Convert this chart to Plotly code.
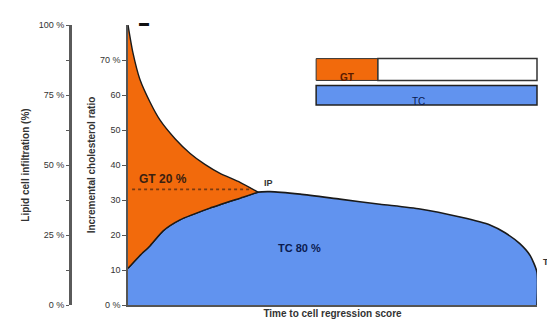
import plotly.graph_objects as go

# ---- data ----
upper_x = [0, 1.2, 2.9, 5.4, 7.8, 11.5, 15.2, 18.8, 22.5, 27.4, 31.8]
upper_y = [100, 90.1, 80.6, 72.4, 66.1, 59.4, 54.1, 50.2, 47.0, 43.8, 40.3]

lower_x = [0, 2.9, 5.4, 8.6, 12.7, 20.0, 28.1, 31.8]
lower_y = [13.1, 17.7, 21.2, 26.5, 30.4, 34.6, 38.5, 40.3]

tail_x = [34.7, 42.1, 51.8, 61.6, 71.4, 81.2, 88.5, 92.2, 95.8, 98.3, 100]
tail_y = [40.5, 39.6, 37.8, 36.0, 34.3, 31.4, 28.6, 25.8, 21.9, 17.7, 11.7]

ip_x, ip_y = 31.8, 40.3

inner_tickvals = [0, 12.5, 25, 37.5, 50, 62.5, 75, 87.5]
inner_ticktext = ["0 %", "10", "20", "30", "40", "50", "60", "70 %"]
outer_tickvals = [0, 25, 50, 75, 100]
outer_ticktext = ["0 %", "25 %", "50 %", "75 %", "100 %"]

share_labels = ["GT 20 %", "TC 80 %"]

ORANGE = "#f26a0c"
BLUE = "#6193ef"
LINE = "#1a1a1a"

fig = go.Figure()

# blue area (TC)
blue_x = lower_x + tail_x + [100]
blue_y = lower_y + tail_y + [0]
fig.add_trace(go.Scatter(x=blue_x, y=blue_y, mode="lines", fill="tozeroy",
                         fillcolor=BLUE, line=dict(color=LINE, width=1.6, shape="spline", smoothing=0.6),
                         hoverinfo="skip", showlegend=False))
# orange area (GT)
or_x = upper_x + lower_x[::-1]
or_y = upper_y + lower_y[::-1]
fig.add_trace(go.Scatter(x=or_x, y=or_y, mode="lines", fill="toself",
                         fillcolor=ORANGE, line=dict(color=LINE, width=1.4, shape="spline", smoothing=0.6),
                         hoverinfo="skip", showlegend=False))
# dotted reference at IP level
fig.add_trace(go.Scatter(x=[1, ip_x - 2], y=[ip_y + 1, ip_y + 1], mode="lines",
                         line=dict(color="#7a3a10", width=1.6, dash="dot"),
                         hoverinfo="skip", showlegend=False))
# invisible trace for outer axis
fig.add_trace(go.Scatter(x=[0], y=[0], yaxis="y2", mode="markers",
                         marker=dict(opacity=0), hoverinfo="skip", showlegend=False))

font = dict(family="Liberation Sans, Arial", size=10, color="#333333")
W, H = 547, 328
L, R, T, B = 62, 18, 14, 31
dom0 = 58 / (W - L - R)

fig.update_layout(
    width=W, height=H,
    margin=dict(l=L, r=R, t=T, b=B),
    paper_bgcolor="white", plot_bgcolor="white",
    font=font,
    xaxis=dict(domain=[dom0, 1], range=[0, 100], showgrid=False, zeroline=False,
               showticklabels=False, ticks="", showline=True, linecolor="#555555",
               linewidth=2,
               title=dict(text="<b>Time to cell regression score</b>", standoff=4,
                          font=dict(size=10, color="#333333"))),
    yaxis=dict(range=[0, 100], showgrid=False, zeroline=False, showline=True,
               linecolor="#555555", linewidth=1.5, ticks="outside", ticklen=4,
               tickcolor="#555555", tickvals=inner_tickvals, ticktext=inner_ticktext,
               tickfont=dict(size=9, color="#333333"),
               title=dict(text="<b>Incremental cholesterol ratio</b>", standoff=2,
                          font=dict(size=10, color="#333333"))),
    yaxis2=dict(range=[0, 100], overlaying="y", anchor="free", position=0, side="left",
                showgrid=False, zeroline=False, showline=True, linecolor="#5a5a5a",
                linewidth=3, ticks="outside", ticklen=3, tickcolor="#5a5a5a",
                tickvals=outer_tickvals, ticktext=outer_ticktext,
                minor=dict(ticks="outside", ticklen=3, dtick=12.5, tickcolor="#5a5a5a"),
                tickfont=dict(size=9, color="#333333"),
                title=dict(text="<b>Lipid cell infiltration (%)</b>", standoff=6,
                           font=dict(size=10, color="#333333"))),
)

# legend-like boxes
shapes = [
    dict(type="rect", xref="x domain", yref="y domain", x0=0.46, x1=0.611, y0=0.802, y1=0.880,
         fillcolor=ORANGE, line=dict(color="#333333", width=1)),
    dict(type="rect", xref="x domain", yref="y domain", x0=0.611, x1=1.0, y0=0.802, y1=0.880,
         fillcolor="white", line=dict(color="#333333", width=1.5)),
    dict(type="rect", xref="x domain", yref="y domain", x0=0.46, x1=1.0, y0=0.714, y1=0.784,
         fillcolor=BLUE, line=dict(color="#222222", width=1.5)),
]
fig.update_layout(shapes=shapes)

ann = [
    dict(x=0.535, y=0.841, xref="x domain", yref="y domain", text="<b>GT</b>", showarrow=False,
         font=dict(size=10, color="#5a1a00")),
    dict(x=0.73, y=0.752, xref="x domain", yref="y domain", text="TC", showarrow=False,
         font=dict(size=10, color="#0a1a50")),
    dict(x=8.5, y=45, text="<b>" + share_labels[0] + "</b>", showarrow=False,
         font=dict(size=12, color="#3a2010")),
    dict(x=42, y=20.5, text="<b>" + share_labels[1] + "</b>", showarrow=False,
         font=dict(size=11, color="#0a1a50")),
    dict(x=ip_x, y=ip_y, text="<b>IP</b>", showarrow=False, xshift=10, yshift=9,
         font=dict(size=9, color="#333333")),
    dict(x=100, y=11.7, text="<b>T</b>", showarrow=False, xshift=9, yshift=10,
         font=dict(size=9, color="#333333")),
    dict(x=0.022, y=1.035, xref="x domain", yref="y domain", text="<b>▬</b>", showarrow=False,
         font=dict(size=10, color="#111111")),
]
fig.update_layout(annotations=ann)

fig.write_html("out.html")
